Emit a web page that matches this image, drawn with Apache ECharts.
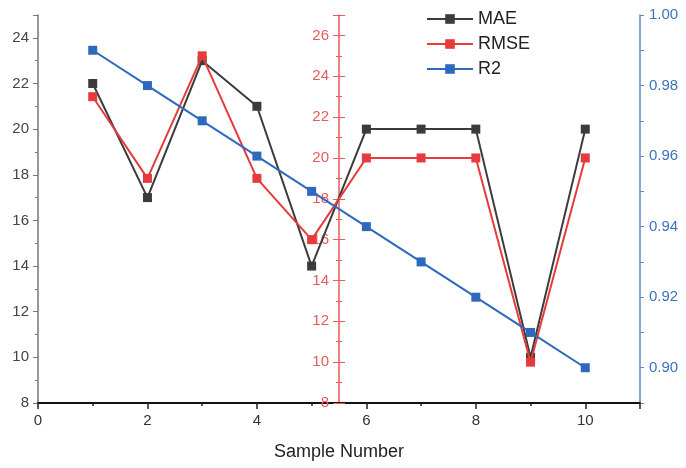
<!DOCTYPE html>
<html>
<head>
<meta charset="utf-8">
<script src="https://cdn.jsdelivr.net/npm/echarts@6/dist/echarts.min.js"></script>
<style>
  html, body { margin: 0; padding: 0; background: #fff; }
  #chart { width: 686px; height: 468px; }
</style>
</head>
<body>
<div id="chart"></div>
<script>
// Sample numbers on the x axis
const samples = [1, 2, 3, 4, 5, 6, 7, 8, 9, 10];
// Error metrics per sample
const maeValues  = [22, 17, 23, 21, 14, 20, 20, 20, 10, 20];
const rmseValues = [23, 19, 25, 19, 16, 20, 20, 20, 10, 20];
const r2Values   = [0.99, 0.98, 0.97, 0.96, 0.95, 0.94, 0.93, 0.92, 0.91, 0.90];

const FONT = '"Liberation Sans", Arial, sans-serif';
const BLACK = '#3b3b3b';
const RED = '#e63a3c';
const RED_AXIS = '#e85a5c';
const BLUE = '#2d69bd';
const BLUE_AXIS = '#5a8ccb';

const pairs = vals => samples.map((s, i) => [s, vals[i]]);

const chart = echarts.init(document.getElementById('chart'), null, { renderer: 'canvas' });

const GRID_LEFT = 38, GRID_RIGHT = 46;
const plotWidth = 686 - GRID_LEFT - GRID_RIGHT;
const xMax = 11;
// Middle (RMSE) axis sits at sample 5.5
const redOffset = -Math.round(plotWidth * 5.5 / xMax);

const evenLabel = v => (Math.abs(v - Math.round(v)) < 1e-6 && Math.round(v) % 2 === 0) ? String(Math.round(v)) : '';

chart.setOption({
  animation: false,
  backgroundColor: '#fff',
  textStyle: { fontFamily: FONT },
  grid: { left: GRID_LEFT, right: GRID_RIGHT, top: 15, bottom: 65, containLabel: false },
  legend: {
    orient: 'vertical',
    left: 421,
    top: 5,
    itemWidth: 46,
    itemHeight: 12,
    itemGap: 7,
    textStyle: { fontSize: 18, color: '#222', fontFamily: FONT, lineHeight: 18 },
    data: ['MAE', 'RMSE', 'R2']
  },
  xAxis: [
    {
      type: 'value', min: 0, max: xMax, interval: 2,
      name: 'Sample Number', nameLocation: 'middle', nameGap: 40,
      nameTextStyle: { fontSize: 18, color: '#222', fontFamily: FONT },
      axisLine: { show: true, lineStyle: { color: '#111', width: 2 } },
      axisTick: { show: true, length: 6, lineStyle: { color: '#222', width: 1.5 } },
      axisLabel: { fontSize: 15, color: '#333', margin: 10, formatter: evenLabel },
      splitLine: { show: false }
    },
    {
      type: 'value', min: 0, max: xMax, interval: 1, position: 'bottom',
      axisLine: { show: false },
      axisTick: { show: true, length: 3, lineStyle: { color: '#222', width: 1.5 } },
      axisLabel: { show: false },
      splitLine: { show: false }
    }
  ],
  yAxis: [
    // left: MAE
    {
      type: 'value', position: 'left', min: 8, max: 25, interval: 2,
      axisLine: { show: true, lineStyle: { color: '#777', width: 1.5 } },
      axisTick: { show: true, length: 5, lineStyle: { color: '#777' } },
      minorTick: { show: true, splitNumber: 2, length: 3, lineStyle: { color: '#777' } },
      axisLabel: { fontSize: 15, color: '#444', margin: 9, formatter: evenLabel },
      splitLine: { show: false }
    },
    // middle: RMSE (outer ticks + labels)
    {
      type: 'value', position: 'left', offset: redOffset, min: 8, max: 27, interval: 2,
      axisLine: { show: true, onZero: false, lineStyle: { color: RED_AXIS, width: 1.5 } },
      axisTick: { show: true, length: 6, lineStyle: { color: RED_AXIS } },
      minorTick: { show: true, splitNumber: 2, length: 3, lineStyle: { color: RED_AXIS } },
      axisLabel: { fontSize: 15, color: RED_AXIS, margin: 10, formatter: evenLabel },
      splitLine: { show: false }
    },
    // middle: RMSE inner half of the crossing ticks
    {
      type: 'value', position: 'left', offset: redOffset, min: 8, max: 27, interval: 2,
      axisLine: { show: false },
      axisTick: { show: true, inside: true, length: 6, lineStyle: { color: RED_AXIS } },
      minorTick: { show: true, splitNumber: 2, length: 3, lineStyle: { color: RED_AXIS } },
      axisLabel: { show: false },
      splitLine: { show: false }
    },
    // right: R2
    {
      type: 'value', position: 'right', min: 0.89, max: 1.0, interval: 0.01,
      axisLine: { show: true, lineStyle: { color: BLUE_AXIS, width: 1.5 } },
      axisTick: { show: true, length: 4, lineStyle: { color: BLUE_AXIS } },
      axisLabel: {
        fontSize: 15, color: '#3a74b8', margin: 9,
        formatter: v => { const h = Math.round(v * 100); return h % 2 === 0 ? (h / 100).toFixed(2) : ''; }
      },
      splitLine: { show: false }
    }
  ],
  series: [
    {
      name: 'MAE', type: 'line', xAxisIndex: 0, yAxisIndex: 0,
      data: pairs(maeValues),
      symbol: 'rect', symbolSize: 9,
      lineStyle: { color: BLACK, width: 2 },
      itemStyle: { color: BLACK },
      z: 3
    },
    {
      name: 'RMSE', type: 'line', xAxisIndex: 0, yAxisIndex: 1,
      data: pairs(rmseValues),
      symbol: 'rect', symbolSize: 9,
      lineStyle: { color: RED, width: 2 },
      itemStyle: { color: RED },
      z: 4
    },
    {
      name: 'R2', type: 'line', xAxisIndex: 0, yAxisIndex: 3,
      data: pairs(r2Values),
      symbol: 'rect', symbolSize: 9,
      lineStyle: { color: BLUE, width: 2 },
      itemStyle: { color: BLUE },
      z: 5
    }
  ]
});
</script>
</body>
</html>
